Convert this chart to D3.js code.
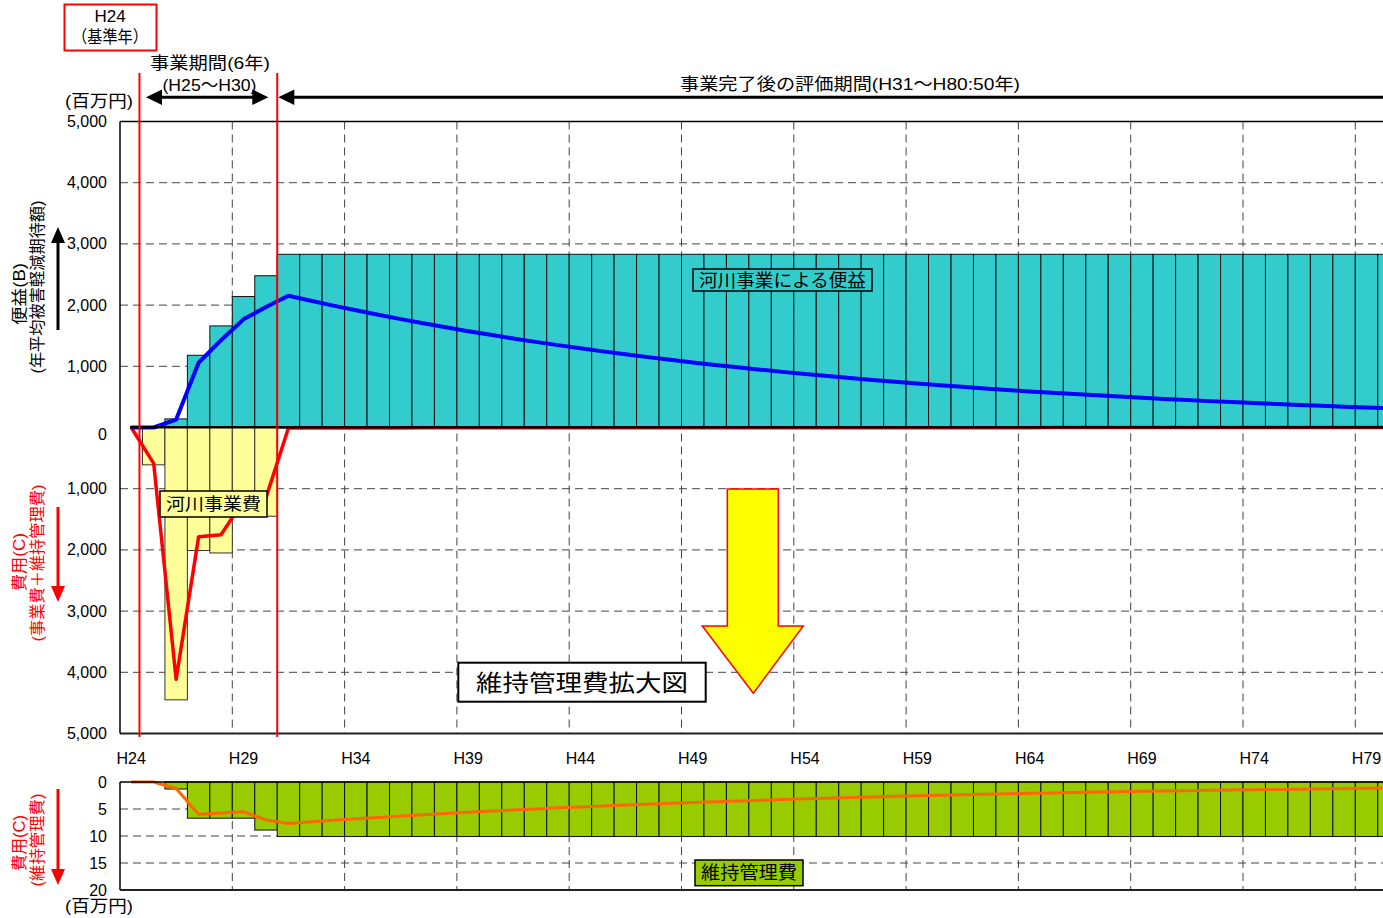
<!DOCTYPE html>
<html>
<head>
<meta charset="utf-8">
<script src="https://cdn.jsdelivr.net/npm/d3@7"></script>
<style>
  body { margin: 0; background: #fff; }
  svg { display: block; }
  text { font-family: 'Liberation Sans', 'Noto Sans CJK JP', sans-serif; fill: #000; }
</style>
</head>
<body>
<svg id="chart" width="1383" height="918"></svg>
<script>
// Fiscal years H24 (base year) to H80
const years = d3.range(24, 81).map(n => "H" + n);
const yearTicks = ["H24", "H29", "H34", "H39", "H44", "H49", "H54", "H59", "H64", "H69", "H74", "H79"];

// Annual benefit (百万円)
const benefit = [0, 0, 140, 1180, 1660, 2140, 2480,
  2830, 2830, 2830, 2830, 2830, 2830, 2830, 2830, 2830, 2830,
  2830, 2830, 2830, 2830, 2830, 2830, 2830, 2830, 2830, 2830,
  2830, 2830, 2830, 2830, 2830, 2830, 2830, 2830, 2830, 2830,
  2830, 2830, 2830, 2830, 2830, 2830, 2830, 2830, 2830, 2830,
  2830, 2830, 2830, 2830, 2830, 2830, 2830, 2830, 2830, 2830];

// Annual cost: project cost + maintenance (百万円)
const cost = [0, 610, 4450, 2010, 2050, 1450, 1450,
  10, 10, 10, 10, 10, 10, 10, 10, 10, 10,
  10, 10, 10, 10, 10, 10, 10, 10, 10, 10,
  10, 10, 10, 10, 10, 10, 10, 10, 10, 10,
  10, 10, 10, 10, 10, 10, 10, 10, 10, 10,
  10, 10, 10, 10, 10, 10, 10, 10, 10, 10];

// Present value of benefit (百万円)
const benefitPV = [0, 0, 130, 1058, 1427, 1767, 1968,
  2154, 2072, 1992, 1915, 1842, 1771, 1703, 1637, 1574, 1514,
  1455, 1399, 1346, 1294, 1244, 1196, 1150, 1106, 1063, 1023,
  983, 945, 909, 874, 840, 808, 777, 747, 718, 691,
  664, 639, 614, 590, 568, 546, 525, 505, 485, 467,
  449, 431, 415, 399, 384, 369, 355, 341, 328, 315];

// Annual maintenance cost (百万円)
const maintenance = [0, 0, 1.3, 6.7, 6.7, 6.7, 8.9,
  10.1, 10.1, 10.1, 10.1, 10.1, 10.1, 10.1, 10.1, 10.1, 10.1,
  10.1, 10.1, 10.1, 10.1, 10.1, 10.1, 10.1, 10.1, 10.1, 10.1,
  10.1, 10.1, 10.1, 10.1, 10.1, 10.1, 10.1, 10.1, 10.1, 10.1,
  10.1, 10.1, 10.1, 10.1, 10.1, 10.1, 10.1, 10.1, 10.1, 10.1,
  10.1, 10.1, 10.1, 10.1, 10.1, 10.1, 10.1, 10.1, 10.1, 10.1];

// Present value of maintenance cost (百万円)
const maintenancePV = [0, 0, 1.2, 5.96, 5.73, 5.51, 7.03,
  7.68, 7.38, 7.10, 6.82, 6.56, 6.31, 6.07, 5.83, 5.61, 5.39,
  5.19, 4.99, 4.79, 4.61, 4.43, 4.26, 4.10, 3.94, 3.79, 3.64,
  3.50, 3.37, 3.24, 3.11, 2.99, 2.88, 2.77, 2.66, 2.56, 2.46,
  2.37, 2.28, 2.19, 2.10, 2.02, 1.95, 1.87, 1.80, 1.73, 1.66,
  1.60, 1.54, 1.48, 1.42, 1.37, 1.32, 1.26, 1.21, 1.17, 1.12];

// Present value of total cost (百万円)
const costPV = [0, 587, 4115, 1787, 1752, 1192, 1146].concat(maintenancePV.slice(7));

const topTicks = [5000, 4000, 3000, 2000, 1000, 0, -1000, -2000, -3000, -4000, -5000];
const bottomTicks = [0, 5, 10, 15, 20];

const COL = {
  teal: "#33CCCC", yellow: "#FFFF99", green: "#99CC00",
  blue: "#0000FF", red: "#FF0000", orange: "#FF6600", grid: "#444"
};

const svg = d3.select("#chart");
const W = 1383;
const left = 120, step = 22.46;
const x = d3.scaleBand().domain(years).range([left, left + years.length * step]).padding(0);
const xc = d => x(d) + x.bandwidth() / 2;
const xRight = x.range()[1];

const y = d3.scaleLinear().domain([-5000, 5000]).range([733.5, 121.5]);
const y2 = d3.scaleLinear().domain([0, 20]).range([782, 890]);

svg.append("rect").attr("width", W).attr("height", 918).attr("fill", "#fff");

// ---------- upper chart: benefit / cost ----------
const gTop = svg.append("g");

// dashed grid
gTop.selectAll("line.hgrid").data(topTicks.filter(v => v !== 0 && Math.abs(v) !== 5000))
  .join("line").attr("class", "hgrid")
  .attr("x1", left).attr("x2", xRight).attr("y1", d => y(d)).attr("y2", d => y(d))
  .attr("stroke", COL.grid).attr("stroke-width", 1).attr("stroke-dasharray", "8,5");
const vGridYears = years.filter((d, i) => i > 0 && i % 5 === 0);
gTop.selectAll("line.vgrid").data(vGridYears).join("line").attr("class", "vgrid")
  .attr("x1", d => x(d)).attr("x2", d => x(d)).attr("y1", y(5000)).attr("y2", y(-5000))
  .attr("stroke", COL.grid).attr("stroke-width", 1).attr("stroke-dasharray", "8,5");

// benefit bars
const benefitData = years.map((d, i) => ({ year: d, v: benefit[i] })).filter(d => d.v > 0);
gTop.selectAll("rect.benefit").data(benefitData).join("rect").attr("class", "benefit")
  .attr("x", d => x(d.year)).attr("width", x.bandwidth())
  .attr("y", d => y(d.v)).attr("height", d => y(0) - y(d.v))
  .attr("fill", COL.teal).attr("stroke", "#111").attr("stroke-width", 1);

// cost bars
const costData = years.map((d, i) => ({ year: d, v: cost[i] })).filter(d => d.v > 0);
gTop.selectAll("rect.cost").data(costData).join("rect").attr("class", "cost")
  .attr("x", d => x(d.year)).attr("width", x.bandwidth())
  .attr("y", y(0)).attr("height", d => y(-d.v) - y(0))
  .attr("fill", COL.yellow).attr("stroke", "#333").attr("stroke-width", 1);

// project period markers
[x("H25") - 3, x("H31")].forEach(px => {
  svg.append("line").attr("x1", px).attr("x2", px).attr("y1", 73).attr("y2", 737)
    .attr("stroke", COL.red).attr("stroke-width", 2);
});

// present value lines
const lineTop = d3.line().x(d => xc(d.year)).y(d => y(d.v));
gTop.append("path")
  .datum(years.map((d, i) => ({ year: d, v: -costPV[i] })))
  .attr("d", lineTop).attr("fill", "none").attr("stroke", COL.red)
  .attr("stroke-width", 3.5).attr("stroke-linejoin", "round");
gTop.append("path")
  .datum(years.map((d, i) => ({ year: d, v: benefitPV[i] })))
  .attr("d", lineTop).attr("fill", "none").attr("stroke", COL.blue)
  .attr("stroke-width", 4).attr("stroke-linejoin", "round");

// frame and zero line
gTop.append("line").attr("x1", left).attr("x2", xRight).attr("y1", y(5000)).attr("y2", y(5000))
  .attr("stroke", "#000").attr("stroke-width", 1.5);
gTop.append("line").attr("x1", left).attr("x2", xRight).attr("y1", y(-5000)).attr("y2", y(-5000))
  .attr("stroke", "#222").attr("stroke-width", 2);
gTop.append("line").attr("x1", left + 10).attr("x2", xRight).attr("y1", y(0) - 0.3).attr("y2", y(0) - 0.3)
  .attr("stroke", "#000").attr("stroke-width", 2.6);
gTop.append("line").attr("x1", left).attr("x2", left).attr("y1", y(5000)).attr("y2", y(-5000))
  .attr("stroke", "#000").attr("stroke-width", 1.5);

// y tick labels
gTop.selectAll("text.ytick").data(topTicks).join("text").attr("class", "ytick")
  .attr("x", 107).attr("y", d => y(d) + (d === 0 ? 7 : 0))
  .attr("text-anchor", "end").attr("dominant-baseline", "central")
  .attr("font-size", 16).text(d => d3.format(",")(Math.abs(d)));

// ---------- year labels ----------
svg.selectAll("text.xtick").data(yearTicks).join("text").attr("class", "xtick")
  .attr("x", d => xc(d)).attr("y", 758)
  .attr("text-anchor", "middle").attr("dominant-baseline", "central")
  .attr("font-size", 16).text(d => d);

// ---------- lower chart: maintenance ----------
const gBot = svg.append("g");
gBot.selectAll("line.hgrid").data([5, 10, 15]).join("line").attr("class", "hgrid")
  .attr("x1", left).attr("x2", xRight).attr("y1", d => y2(d)).attr("y2", d => y2(d))
  .attr("stroke", COL.grid).attr("stroke-width", 1).attr("stroke-dasharray", "8,5");
gBot.selectAll("line.vgrid").data(vGridYears).join("line").attr("class", "vgrid")
  .attr("x1", d => x(d)).attr("x2", d => x(d)).attr("y1", y2(0)).attr("y2", y2(20))
  .attr("stroke", COL.grid).attr("stroke-width", 1).attr("stroke-dasharray", "8,5");

const maintData = years.map((d, i) => ({ year: d, v: maintenance[i] })).filter(d => d.v > 0);
gBot.selectAll("rect.maint").data(maintData).join("rect").attr("class", "maint")
  .attr("x", d => x(d.year)).attr("width", x.bandwidth())
  .attr("y", y2(0)).attr("height", d => y2(d.v) - y2(0))
  .attr("fill", COL.green).attr("stroke", "#111").attr("stroke-width", 1);

gBot.append("path")
  .datum(years.map((d, i) => ({ year: d, v: maintenancePV[i] })))
  .attr("d", d3.line().x(d => xc(d.year)).y(d => y2(d.v)))
  .attr("fill", "none").attr("stroke", COL.orange).attr("stroke-width", 3)
  .attr("stroke-linejoin", "round");

gBot.append("line").attr("x1", left).attr("x2", xRight).attr("y1", y2(0)).attr("y2", y2(0))
  .attr("stroke", "#000").attr("stroke-width", 1.5);
gBot.append("line").attr("x1", left).attr("x2", xRight).attr("y1", y2(20)).attr("y2", y2(20))
  .attr("stroke", "#222").attr("stroke-width", 2);
gBot.append("line").attr("x1", left).attr("x2", left).attr("y1", y2(0)).attr("y2", y2(20))
  .attr("stroke", "#000").attr("stroke-width", 1.5);

gBot.selectAll("text.ytick").data(bottomTicks).join("text").attr("class", "ytick")
  .attr("x", 107).attr("y", d => y2(d))
  .attr("text-anchor", "end").attr("dominant-baseline", "central")
  .attr("font-size", 16).text(d => d);

// ---------- text helpers ----------
function label(txt, cx, cy, size, opts = {}) {
  const t = svg.append("text").attr("x", cx).attr("y", cy)
    .attr("text-anchor", "middle").attr("dominant-baseline", "central")
    .attr("font-size", size).text(txt);
  if (opts.len) t.attr("textLength", opts.len).attr("lengthAdjust", "spacingAndGlyphs");
  if (opts.fill) t.style("fill", opts.fill);
  return t;
}
function vlabel(txt, cx, cy, size, len, fill) {
  const t = svg.append("text").attr("transform", `translate(${cx},${cy}) rotate(-90)`)
    .attr("text-anchor", "middle").attr("dominant-baseline", "central")
    .attr("font-size", size).text(txt);
  if (len) t.attr("textLength", len).attr("lengthAdjust", "spacingAndGlyphs");
  t.style("fill", fill || "#000");
}
function boxLabel(txt, x0, y0, x1, y1, fill, size, len, sw) {
  svg.append("rect").attr("x", x0).attr("y", y0).attr("width", x1 - x0).attr("height", y1 - y0)
    .attr("fill", fill).attr("stroke", "#000").attr("stroke-width", sw || 1.5);
  label(txt, (x0 + x1) / 2, (y0 + y1) / 2 + 0.5, size, { len });
}
function vArrow(px, yTail, yTip, color) {
  const dir = yTip < yTail ? 1 : -1;
  svg.append("line").attr("x1", px).attr("x2", px).attr("y1", yTail).attr("y2", yTip + dir * 14)
    .attr("stroke", color).attr("stroke-width", 3);
  svg.append("path")
    .attr("d", `M${px},${yTip} L${px - 7},${yTip + dir * 16} L${px + 7},${yTip + dir * 16} Z`)
    .attr("fill", color);
}

// ---------- header annotations ----------
svg.append("rect").attr("x", 64.5).attr("y", 4.5).attr("width", 92).attr("height", 46)
  .attr("fill", "none").attr("stroke", COL.red).attr("stroke-width", 2);
label("H24", 110, 16, 17);
label("（基準年）", 110, 37, 17, { len: 76 });

label("事業期間(6年)", 210, 63, 17, { len: 120 });
label("(H25～H30)", 209.5, 85, 17, { len: 94 });
// double-headed arrow for the project period
svg.append("line").attr("x1", 158).attr("x2", 256).attr("y1", 97.3).attr("y2", 97.3)
  .attr("stroke", "#000").attr("stroke-width", 3);
svg.append("path").attr("d", "M146,97.3 L162,89.5 L162,105.1 Z").attr("fill", "#000");
svg.append("path").attr("d", "M268.3,97.3 L252.3,89.5 L252.3,105.1 Z").attr("fill", "#000");
// arrow for the evaluation period
svg.append("line").attr("x1", 290).attr("x2", W + 10).attr("y1", 97.3).attr("y2", 97.3)
  .attr("stroke", "#000").attr("stroke-width", 3);
svg.append("path").attr("d", "M278.3,97.3 L294.3,89.5 L294.3,105.1 Z").attr("fill", "#000");
label("事業完了後の評価期間(H31～H80:50年)", 850, 84, 17, { len: 340 });

label("(百万円)", 99, 101, 17, { len: 68 });
label("(百万円)", 99, 906, 17, { len: 68 });

// ---------- axis titles ----------
vlabel("便益(B)", 19, 294, 16, 62);
vlabel("(年平均被害軽減期待額)", 37, 287, 16, 173);
vArrow(58, 330, 227, "#000");

vlabel("費用(C)", 19, 562, 16, 58, COL.red);
vlabel("(事業費＋維持管理費)", 37, 563, 15.5, 157, COL.red);
vArrow(58, 507, 602, COL.red);

vlabel("費用(C)", 19, 843, 16, 56, COL.red);
vlabel("(維持管理費)", 37, 840, 16, 93, COL.red);
vArrow(58, 789, 885, COL.red);

// ---------- series labels ----------
boxLabel("河川事業による便益", 693, 269, 872, 291, COL.teal, 18, 167);
boxLabel("河川事業費", 160, 491, 267, 517, COL.yellow, 17, 95);
boxLabel("維持管理費", 695, 860, 803, 885.7, COL.green, 18, 96);

// callout pointing to the enlarged maintenance chart
svg.append("path")
  .attr("d", "M727.3,489 L778.3,489 L778.3,626 L803.3,626 L753.3,693.3 L702.3,626 L727.3,626 Z")
  .attr("fill", "#FFFF00").attr("stroke", COL.red).attr("stroke-width", 1.5);
boxLabel("維持管理費拡大図", 458.3, 662.7, 705.7, 701.7, "#fff", 23, 212, 2);
</script>
</body>
</html>
